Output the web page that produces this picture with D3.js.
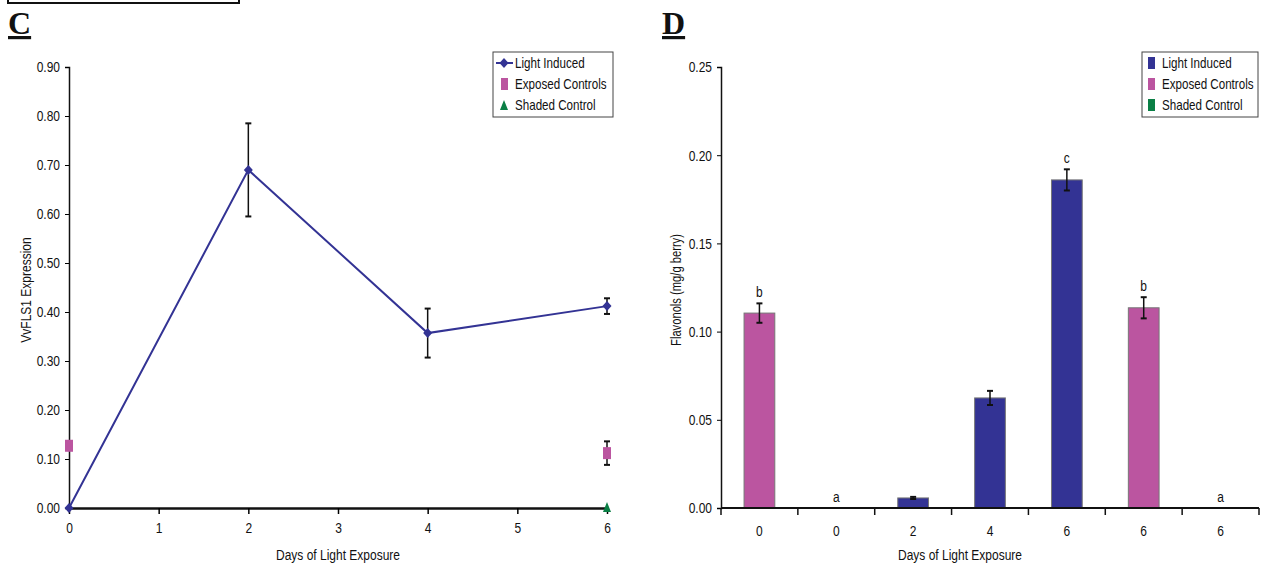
<!DOCTYPE html>
<html>
<head>
<meta charset="utf-8">
<script src="https://cdn.jsdelivr.net/npm/d3@7"></script>
<style>
    body { margin: 0; background: #fff; }
    svg { display: block; }
    text { font-family: "Liberation Sans Narrow", "Arial Narrow", Arial, sans-serif; fill: #111; }
    .panel { font-family: "Liberation Serif", "Times New Roman", serif; font-weight: bold; font-size: 32px; text-decoration: underline; }
</style>
</head>
<body>
<svg id="chart" width="1262" height="565"></svg>
<script>
"use strict";

// Panel C: VvFLS1 expression
var daysC = [0, 2, 4, 6];
var lightInduced = [0, 0.69, 0.357, 0.412];
var lightInducedErr = [0, 0.095, 0.05, 0.016];
var exposedDays = [0, 6];
var exposedValues = [0.127, 0.112];
var exposedErr = [0.008, 0.024];
var shadedDays = [6];
var shadedValues = [0];
var xTicksC = [0, 1, 2, 3, 4, 5, 6];
var yTicksC = [0, 0.1, 0.2, 0.3, 0.4, 0.5, 0.6, 0.7, 0.8, 0.9];

// Panel D: flavonols
var dayLabelsD = ["0", "0", "2", "4", "6", "6", "6"];
var groupsD = ["Exposed Controls", "Shaded Control", "Light Induced", "Light Induced", "Light Induced", "Exposed Controls", "Shaded Control"];
var flavValues = [0.1105, 0, 0.0057, 0.0624, 0.186, 0.1135, 0];
var flavErr = [0.0055, 0, 0.0006, 0.004, 0.006, 0.006, 0];
var flavLetters = ["b", "a", "", "", "c", "b", "a"];
var yTicksD = [0, 0.05, 0.1, 0.15, 0.2, 0.25];

var legendNames = ["Light Induced", "Exposed Controls", "Shaded Control"];
var colors = {
    "Light Induced": "#333394",
    "Exposed Controls": "#bb55a0",
    "Shaded Control": "#0a7f45"
};

var svg = d3.select("#chart");

// box at very top left (cut off)
svg.append("rect")
    .attr("x", 8).attr("y", -10)
    .attr("width", 231).attr("height", 13)
    .attr("fill", "none")
    .attr("stroke", "#111")
    .attr("stroke-width", 2)
;

svg.append("text").attr("class", "panel").attr("x", 8).attr("y", 34).text("C");
svg.append("text").attr("class", "panel").attr("x", 662).attr("y", 34).text("D");

// ---------- Panel C ----------
var xC = d3.scaleLinear().domain([0, 6]).range([69, 607]);
var yC = d3.scaleLinear().domain([0, 0.9]).range([508, 67]);

var gC = svg.append("g");

gC.append("g")
    .attr("transform", "translate(69,0)")
    .call(d3.axisLeft(yC).tickValues(yTicksC).tickFormat(d3.format(".2f")).tickSize(4).tickPadding(5))
    .call(function(g) {
        g.select(".domain").attr("stroke", "#111").attr("stroke-width", 1.5);
        g.selectAll("text").attr("font-size", 15);
    })
;

gC.append("g")
    .attr("transform", "translate(0,508)")
    .call(d3.axisBottom(xC).tickValues(xTicksC).tickFormat(d3.format("d")).tickSize(6).tickSizeOuter(0).tickPadding(8))
    .call(function(g) {
        g.select(".domain").attr("stroke", "#111").attr("stroke-width", 2.5);
        g.selectAll(".tick line").attr("stroke-width", 1.5);
        g.selectAll("text").attr("font-size", 15);
    })
;

gC.append("text")
    .attr("transform", "translate(31,290) rotate(-90)")
    .attr("text-anchor", "middle")
    .attr("font-size", 15)
    .text("VvFLS1 Expression")
;

gC.append("text")
    .attr("x", 338).attr("y", 560)
    .attr("text-anchor", "middle")
    .attr("font-size", 15)
    .text("Days of Light Exposure")
;

function errorBars(g, xs, ys, es, xScale, yScale, cap) {
    xs.forEach(function(d, i) {
        if (!es[i]) return;
        var x = xScale(d);
        var y1 = yScale(ys[i] + es[i]);
        var y2 = yScale(ys[i] - es[i]);
        g.append("line").attr("x1", x).attr("x2", x).attr("y1", y1).attr("y2", y2)
            .attr("stroke", "#111").attr("stroke-width", 1.5);
        [y1, y2].forEach(function(yy) {
            g.append("line").attr("x1", x - cap).attr("x2", x + cap).attr("y1", yy).attr("y2", yy)
                .attr("stroke", "#111").attr("stroke-width", 2);
        });
    });
}

errorBars(gC, daysC, lightInduced, lightInducedErr, xC, yC, 3);
errorBars(gC, exposedDays, exposedValues, exposedErr, xC, yC, 3);

var line = d3.line()
    .x(function(d, i) { return xC(daysC[i]); })
    .y(function(d) { return yC(d); })
;

gC.append("path")
    .datum(lightInduced)
    .attr("d", line)
    .attr("fill", "none")
    .attr("stroke", colors["Light Induced"])
    .attr("stroke-width", 2)
;

var diamond = "M0,-5L4.5,0L0,5L-4.5,0Z";

gC.selectAll(".dia")
    .data(lightInduced)
    .enter().append("path")
    .attr("transform", function(d, i) { return "translate(" + xC(daysC[i]) + "," + yC(d) + ")"; })
    .attr("d", diamond)
    .attr("fill", colors["Light Induced"])
;

gC.selectAll(".sq")
    .data(exposedValues)
    .enter().append("rect")
    .attr("x", function(d, i) { return xC(exposedDays[i]) - 4; })
    .attr("y", function(d) { return yC(d) - 6; })
    .attr("width", 8)
    .attr("height", 12)
    .attr("fill", colors["Exposed Controls"])
;

gC.selectAll(".tri")
    .data(shadedValues)
    .enter().append("path")
    .attr("transform", function(d, i) { return "translate(" + xC(shadedDays[i]) + "," + yC(d) + ")"; })
    .attr("d", "M0,-6L4,4L-4,4Z")
    .attr("fill", colors["Shaded Control"])
;

// legend C
var legC = gC.append("g").attr("transform", "translate(493,52)");
legC.append("rect")
    .attr("width", 120).attr("height", 65)
    .attr("fill", "#fff").attr("stroke", "#444").attr("stroke-width", 1)
;
legendNames.forEach(function(name, i) {
    var y = 11 + i * 21;
    if (i === 0) {
        legC.append("line").attr("x1", 3).attr("x2", 20).attr("y1", y).attr("y2", y)
            .attr("stroke", colors[name]).attr("stroke-width", 2);
        legC.append("path").attr("transform", "translate(11," + y + ")").attr("d", diamond).attr("fill", colors[name]);
    } else if (i === 1) {
        legC.append("rect").attr("x", 8).attr("y", y - 6).attr("width", 7).attr("height", 12).attr("fill", colors[name]);
    } else {
        legC.append("path").attr("transform", "translate(11," + (y + 1) + ")").attr("d", "M0,-6L4,4L-4,4Z").attr("fill", colors[name]);
    }
    legC.append("text")
        .attr("x", 22).attr("y", y + 5)
        .attr("font-size", 14.5)
        .text(name)
    ;
});

// ---------- Panel D ----------
var idx = d3.range(flavValues.length);
var xD = d3.scaleBand().domain(idx).range([721, 1259]).paddingInner(0.6).paddingOuter(0.3);
var yD = d3.scaleLinear().domain([0, 0.25]).range([508, 67]);
var step = xD.step();

var gD = svg.append("g");

gD.append("g")
    .attr("transform", "translate(721,0)")
    .call(d3.axisLeft(yD).tickValues(yTicksD).tickFormat(d3.format(".2f")).tickSize(4).tickPadding(5))
    .call(function(g) {
        g.select(".domain").attr("stroke", "#111").attr("stroke-width", 1.5);
        g.selectAll("text").attr("font-size", 15);
    })
;

gD.selectAll(".bar")
    .data(flavValues)
    .enter().append("rect")
    .attr("x", function(d, i) { return xD(i); })
    .attr("y", function(d) { return yD(d); })
    .attr("width", xD.bandwidth())
    .attr("height", function(d) { return 508 - yD(d); })
    .attr("fill", function(d, i) { return colors[groupsD[i]]; })
    .attr("stroke", function(d) { return d > 0 ? "#777" : "none"; })
    .attr("stroke-width", 1)
;

errorBars(gD, idx, flavValues, flavErr, function(i) { return xD(i) + xD.bandwidth() / 2; }, yD, 3);

gD.selectAll(".letter")
    .data(flavLetters)
    .enter().append("text")
    .attr("x", function(d, i) { return xD(i) + xD.bandwidth() / 2; })
    .attr("y", function(d, i) { return yD(flavValues[i] + flavErr[i]) - 6; })
    .attr("text-anchor", "middle")
    .attr("font-size", 15)
    .text(function(d) { return d; })
;

var xAxisD = gD.append("g");
xAxisD.append("line")
    .attr("x1", 721).attr("x2", 1259).attr("y1", 508).attr("y2", 508)
    .attr("stroke", "#111").attr("stroke-width", 2)
;
d3.range(flavValues.length + 1).forEach(function(i) {
    var x = 721 + i * step;
    xAxisD.append("line")
        .attr("x1", x).attr("x2", x).attr("y1", 508).attr("y2", 515)
        .attr("stroke", "#111").attr("stroke-width", 1.5);
});
xAxisD.selectAll(".lab")
    .data(dayLabelsD)
    .enter().append("text")
    .attr("x", function(d, i) { return xD(i) + xD.bandwidth() / 2; })
    .attr("y", 536)
    .attr("text-anchor", "middle")
    .attr("font-size", 15)
    .text(function(d) { return d; })
;

gD.append("text")
    .attr("transform", "translate(681,290) rotate(-90)")
    .attr("text-anchor", "middle")
    .attr("font-size", 14)
    .text("Flavonols (mg/g berry)")
;

gD.append("text")
    .attr("x", 960).attr("y", 560)
    .attr("text-anchor", "middle")
    .attr("font-size", 15)
    .text("Days of Light Exposure")
;

// legend D
var legD = gD.append("g").attr("transform", "translate(1142,52)");
legD.append("rect")
    .attr("width", 116).attr("height", 65)
    .attr("fill", "#fff").attr("stroke", "#444").attr("stroke-width", 1)
;
legendNames.forEach(function(name, i) {
    var y = 11 + i * 21;
    legD.append("rect").attr("x", 6).attr("y", y - 6).attr("width", 7).attr("height", 12).attr("fill", colors[name]);
    legD.append("text")
        .attr("x", 20).attr("y", y + 5)
        .attr("font-size", 14.5)
        .text(name)
    ;
});

// the original uses a condensed face; squeeze every label horizontally
svg.selectAll("text:not(.panel)").each(function() {
    var t = d3.select(this);
    var x = +t.attr("x") || 0;
    var y = +t.attr("y") || 0;
    var tf = t.attr("transform") || "";
    t.attr("x", 0).attr("y", 0)
        .attr("transform", tf + " translate(" + x + "," + y + ") scale(0.8,1)")
    ;
});
</script>
</body>
</html>
